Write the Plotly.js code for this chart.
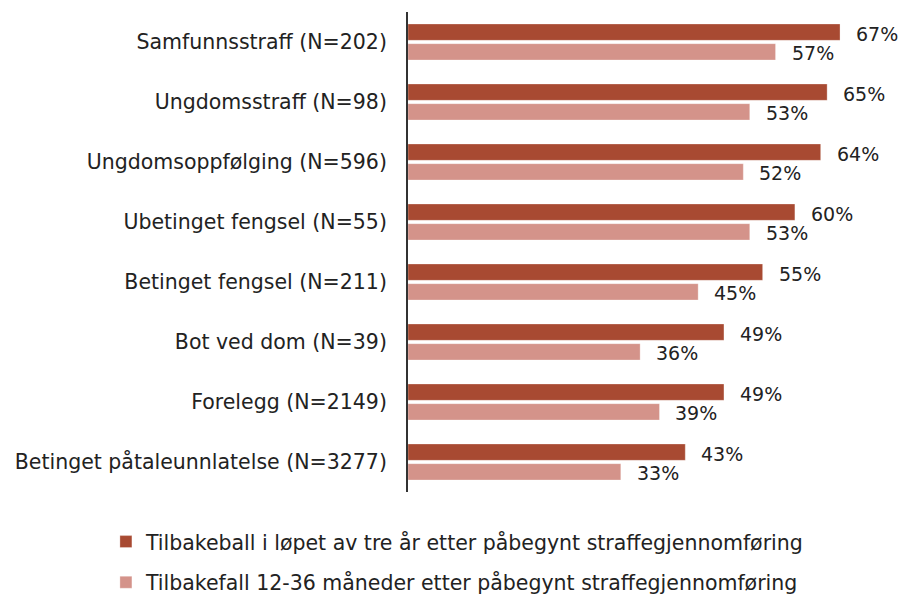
<!DOCTYPE html>
<html>
<head>
<meta charset="utf-8">
<script src="https://cdn.plot.ly/plotly-3.0.1.min.js"></script>
<style>html,body{margin:0;padding:0;background:#fff;}#chart{width:901px;height:596px;}</style>
</head>
<body>
<div id="chart"></div>
<script>
const categories = [
  "Samfunnsstraff (N=202)",
  "Ungdomsstraff (N=98)",
  "Ungdomsoppfølging (N=596)",
  "Ubetinget fengsel (N=55)",
  "Betinget fengsel (N=211)",
  "Bot ved dom (N=39)",
  "Forelegg (N=2149)",
  "Betinget påtaleunnlatelse (N=3277)"
];
const series1Name = "Tilbakeball i løpet av tre år etter påbegynt straffegjennomføring";
const series2Name = "Tilbakefall 12-36 måneder etter påbegynt straffegjennomføring";
const series1 = [67, 65, 64, 60, 55, 49, 49, 43];
const series2 = [57, 53, 52, 53, 45, 36, 39, 33];

const FONT = "DejaVu Sans, sans-serif";
const dark = "#A84A32";
const light = "#D4938A";

const traces = [
  {type:"bar", orientation:"h", name:series1Name, y:categories, x:series1,
   marker:{color:dark, line:{color:"rgba(255,255,255,0.6)", width:0.5}}, legendgroup:"a", hoverinfo:"none"},
  {type:"bar", orientation:"h", name:series2Name, y:categories, x:series2,
   marker:{color:light, line:{color:"rgba(255,255,255,0.6)", width:0.5}}, legendgroup:"b", hoverinfo:"none"}
];

const annotations = [];
categories.forEach((c, i) => {
  annotations.push({x:series1[i], y:c, xref:"x", yref:"y", text:series1[i]+"%", showarrow:false,
    xanchor:"left", xshift:14, yshift:8, font:{family:FONT, size:19, color:"#222"}});
  annotations.push({x:series2[i], y:c, xref:"x", yref:"y", text:series2[i]+"%", showarrow:false,
    xanchor:"left", xshift:14, yshift:-11, font:{family:FONT, size:19, color:"#222"}});
});

const layout = {
  width:901, height:596,
  margin:{l:408, r:21, t:12, b:104, autoexpand:false},
  paper_bgcolor:"#fff", plot_bgcolor:"#fff",
  font:{family:FONT, size:20, color:"#222"},
  barmode:"group", bargap:0.343, bargroupgap:0.17,
  showlegend:true,
  legend:{x:-0.64, xanchor:"left", y:-0.062, yanchor:"top", orientation:"v",
    traceorder:"grouped", tracegroupgap:11, font:{family:FONT, size:20.5, color:"#222"}, itemwidth:30},
  xaxis:{range:[0, 73.2], showgrid:false, zeroline:false, showticklabels:false, showline:false, fixedrange:true},
  yaxis:{autorange:"reversed", showgrid:false, zeroline:false, showline:true, linecolor:"#333", linewidth:2,
    ticks:"", ticklabelstandoff:15, tickfont:{family:FONT, size:20.5, color:"#222"}, fixedrange:true},
  annotations:annotations
};

Plotly.newPlot("chart", traces, layout, {displayModeBar:false, staticPlot:true});
</script>
</body>
</html>
